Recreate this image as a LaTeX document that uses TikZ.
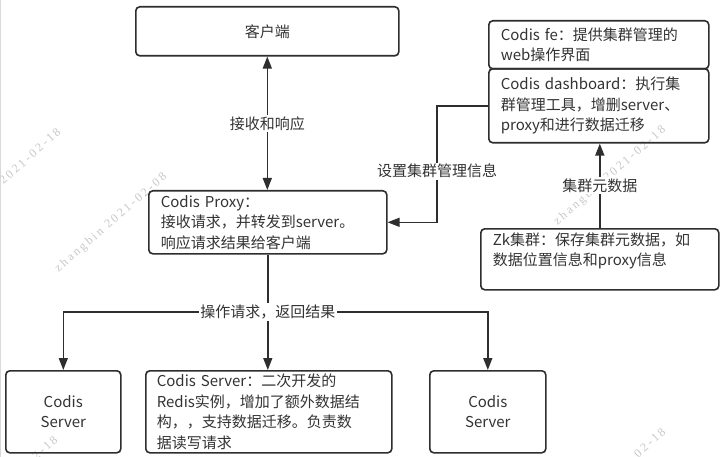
\documentclass[tikz,border=0pt]{standalone}
\usepackage{fontspec}
\setmainfont{Noto Sans CJK SC}
\newfontfamily\wmfont[LetterSpace=20]{Liberation Serif}
\usetikzlibrary{arrows.meta}
\definecolor{ln}{HTML}{2E2E2E}
\definecolor{tx}{HTML}{333333}
\definecolor{wmc}{HTML}{C8C8C8}
\begin{document}
\begin{tikzpicture}[x=1pt,y=-1pt,
  >={Triangle[length=12pt,width=9pt]},
  box/.style={draw=ln, line width=1.6pt, rounded corners=4pt, inner sep=0pt,
    anchor=north west, text=tx, font=\fontsize{15}{20.5}\selectfont},
  cbox/.style={box, align=center},
  lbox/.style={box, align=left, inner xsep=12pt},
  conn/.style={draw=ln, line width=1.6pt},
  lab/.style={fill=white, inner sep=1.5pt, text=tx, font=\fontsize{15}{18}\selectfont},
  wmk/.style={text=wmc, font=\wmfont\fontsize{12}{12}\selectfont, inner sep=0pt}]
\fill[white] (0,0) rectangle (725,457);
\useasboundingbox (0,0) rectangle (725,457);
\draw[gray!30, line width=0.8pt] (0.5,0) -- (0.5,457);
% watermarks
\node[wmk, rotate=42] (w1) at (6,179) {zhangbin 2021-02-18};
\node[wmk, rotate=41] (w2) at (111,223) {zhangbin 2021-02-08};
\node[wmk, rotate=41] (w3) at (610,176) {zhangbin 2021-02-18};
\node[wmk, rotate=42] (w4) at (3,487) {zhangbin 2021-02-18};
\node[wmk, rotate=42] (w5) at (611,479) {zhangbin 2021-02-18};
% boxes
\node[cbox, minimum width=263pt, minimum height=49pt] (client) at (135,6) {客户端};
\node[lbox, minimum width=238pt, minimum height=63pt, text width=214pt] (proxy) at (148,190)
  {Codis Proxy：\\接收请求，并转发到server。\\响应请求结果给客户端};
\node[lbox, minimum width=220pt, minimum height=48pt, text width=196pt] (fe) at (488,20)
  {Codis fe：提供集群管理的\\web操作界面};
\node[lbox, minimum width=220pt, minimum height=74pt, text width=196pt] (dash) at (488,68)
  {Codis dashboard：执行集\\群管理工具，增删server、\\proxy和进行数据迁移};
\node[lbox, minimum width=238pt, minimum height=61pt, text width=214pt] (zk) at (480,228)
  {Zk集群：保存集群元数据，如\\数据位置信息和proxy信息\\\mbox{}};
\node[cbox, minimum width=115pt, minimum height=82pt] (s1) at (5,370) {Codis\\Server};
\node[lbox, inner xsep=11pt, minimum width=246pt, minimum height=82pt, text width=224pt] (s2) at (145,370)
  {Codis Server：二次开发的\\Redis实例，增加了额外数据结\\构，，支持数据迁移。负责数\\据读写请求};
\node[cbox, minimum width=116pt, minimum height=82pt] (s3) at (429,370) {Codis\\Server};
% connectors
\draw[conn, <->] (client.south) -- node[lab] (l1) {接收和响应} (client.south |- proxy.north);
\coordinate (bend) at ([xshift=-51pt]dash.west);
\draw[conn, ->] (dash.west) -- (bend) |- node[lab, pos=0.28] (l2) {设置集群管理信息} (proxy.east);
\draw[conn, ->] (zk.north) -- node[lab] (l3) {集群元数据} (zk.north |- dash.south);
\coordinate (split) at (proxy.south |- 0,312);
\draw[conn] (proxy.south) -- (split);
\draw[conn, ->] (split) -- (split |- s2.north);
\draw[conn, ->] (split) -| (s1.north);
\draw[conn, ->] (split) -| (s3.north);
\node[lab] (l4) at (split) {操作请求，返回结果};
\end{tikzpicture}
\end{document}
